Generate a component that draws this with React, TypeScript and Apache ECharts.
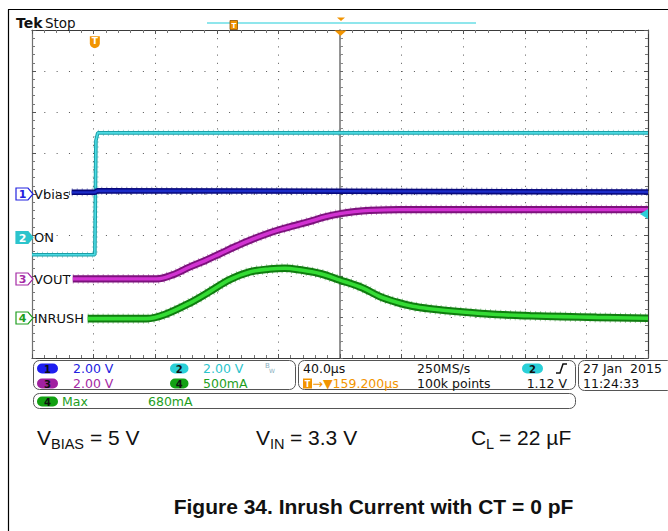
import React, { useEffect, useRef } from "react";
import * as echarts from "echarts";

// ---- Scope settings ----
const TIME_MIN = -200; // µs, relative to screen centre (40 µs/div, 10 div)
const TIME_MAX = 200;
const TIME_DIV = 40;
const DIV_MIN = -4; // vertical divisions relative to centre
const DIV_MAX = 4;
const TRIGGER_T = -159.2; // µs

// ---- Traces (time in µs, level in screen divisions) ----
const ON_T = [-200, -159.2, -158.5, -157.3, 200];
const ON_V = [-1.48, -1.48, 1.3, 1.49, 1.49];

const VBIAS_T = [-174.2, -159.2, -157.5, 200];
const VBIAS_V = [0.04, 0.04, 0.08, 0.05];

const VOUT_T = [-173.5, -119.0, -108.6, -97.6, -87.9, -78.1, -68.4, -58.6, -48.9, -39.2, -29.4, -19.7, -9.9, 0, 9.5, 19.3, 38.8, 200];
const VOUT_V = [-2.07, -2.07, -1.97, -1.78, -1.63, -1.46, -1.29, -1.13, -0.99, -0.87, -0.77, -0.67, -0.56, -0.48, -0.43, -0.4, -0.38, -0.38];

const INRUSH_T = [-163.8, -125.5, -113.8, -97.6, -84.6, -71.6, -58.6, -45.7, -35.9, -26.2, -13.2, 0, 14.7, 25.8, 36.8, 47.2, 58.2, 79.7, 101.7, 123.2, 144.6, 166.7, 200];
const INRUSH_V = [-3.04, -3.04, -2.94, -2.66, -2.38, -2.09, -1.9, -1.83, -1.81, -1.85, -1.94, -2.1, -2.29, -2.5, -2.64, -2.74, -2.8, -2.88, -2.94, -2.97, -2.99, -3.01, -3.03];

// ---- Texts ----
const CH_NAMES = ["Vbias", "ON", "VOUT", "INRUSH"];
const CH_SCALES = ["2.00 V", "2.00 V", "2.00 V", "500mA"];
const TIMEBASE = "40.0µs";
const SAMPLE_RATE = "250MS/s";
const RECORD = "100k points";
const TRIG_POS = "→▼159.200µs";
const TRIG_LEVEL = "1.12 V";
const DATE = "27 Jan  2015";
const TIME = "11:24:33";
const MEAS_NAME = "Max";
const MEAS_VALUE = "680mA";
const TITLE = "Figure 34. Inrush Current with CT = 0 pF";

const COL = {
  blueOuter: "#07077a",
  blueInner: "#1c2cc8",
  cyanOuter: "#1c9ea6",
  cyanInner: "#4cdbe3",
  magOuter: "#7c127c",
  magInner: "#d232d2",
  grnOuter: "#0f7c0f",
  grnInner: "#34dc34",
  blueTxt: "#2222e0",
  cyanTxt: "#2cc4cc",
  magTxt: "#a52aa5",
  grnTxt: "#1e9e1e",
  orange: "#f29400",
};

const pair = (t: number[], v: number[]) => t.map((x, i) => [x, v[i]]);

const SCOPE_FONT = '"DejaVu Sans", sans-serif';
const DOC_FONT = '"Liberation Sans", Arial, sans-serif';
const INFO_FONT = "12.5px " + SCOPE_FONT;
const ROW1 = 368.5;
const ROW2 = 383.5;

function trace(name: string, t: number[], v: number[], outer: string, inner: string, wo: number, wi: number, smooth: number | boolean, z: number) {
  const data = pair(t, v);
  const base = { type: "line", data, showSymbol: false, symbol: "none", smooth, silent: true };
  return [
    { ...base, name: name + "-f", lineStyle: { color: outer, width: wo + 2.5, type: [1, 4], opacity: 0.4 }, z },
    { ...base, name: name + "-o", lineStyle: { color: outer, width: wo }, z: z + 0.2 },
    { ...base, name: name + "-i", lineStyle: { color: inner, width: wi }, z: z + 0.4 },
  ];
}

function txt(text: string, x: number, y: number, fill: string, font: string, align = "left", vAlign = "middle", z = 20) {
  return { type: "text", z, style: { text, x, y, fill, font, textAlign: align, textVerticalAlign: vAlign } };
}

function pill(label: string, x: number, yc: number, w: number, fill: string) {
  return [
    { type: "rect", z: 20, shape: { x, y: yc - 5, width: w, height: 10, r: 5 }, style: { fill } },
    txt(label, x + w / 2, yc + 0.5, "#101010", "bold 10px " + SCOPE_FONT, "center"),
  ];
}

function chMarker(n: string, yc: number, color: string, filled: boolean) {
  const x0 = 16;
  return [
    {
      type: "polygon",
      z: 20,
      shape: { points: [[x0, yc - 6], [x0 + 12, yc - 6], [x0 + 17, yc], [x0 + 12, yc + 6], [x0, yc + 6]] },
      style: { fill: filled ? color : "#ffffff", stroke: color, lineWidth: 1.2 },
    },
    txt(n, x0 + 6.5, yc + 0.5, filled ? "#ffffff" : color, "bold 11px " + SCOPE_FONT, "center"),
  ];
}

export default function App() {
  const ref = useRef<HTMLDivElement>(null);

  useEffect(() => {
    document.body.style.margin = "0";
    if (!ref.current) return;
    const chart = echarts.init(ref.current, undefined, { renderer: "svg" });

    const gridRect = { left: 32, top: 30, width: 616, height: 328 };
    const tickCommon = {
      axisLabel: { show: false },
      axisTick: { show: true, inside: true, length: 4, lineStyle: { color: "#555", width: 1 } },
      minorTick: { show: true, splitNumber: 5, length: 3, lineStyle: { color: "#777", width: 1 } },
    };

    const option: any = {
      animation: false,
      backgroundColor: "#ffffff",
      grid: [
        { ...gridRect, containLabel: false },
        { ...gridRect, containLabel: false },
      ],
      xAxis: [
        {
          type: "value", gridIndex: 0, min: TIME_MIN, max: TIME_MAX, interval: TIME_DIV, position: "bottom",
          axisLine: { show: true, onZero: false, lineStyle: { color: "#3a3a3a", width: 1.2 } },
          ...tickCommon,
          splitLine: { show: true, lineStyle: { color: "#555", width: 1, type: [1, 7.2] } },
        },
        {
          type: "value", gridIndex: 0, min: TIME_MIN, max: TIME_MAX, interval: TIME_DIV, position: "top",
          axisLine: { show: true, onZero: false, lineStyle: { color: "#3a3a3a", width: 1.2 } },
          ...tickCommon,
          splitLine: { show: false },
        },
        {
          type: "value", gridIndex: 1, min: TIME_MIN, max: TIME_MAX, interval: TIME_DIV, position: "bottom",
          axisLine: { show: true, onZero: true, lineStyle: { color: "#555", width: 1, opacity: 0 } },
          axisLabel: { show: false },
          axisTick: { show: true, inside: true, length: 3, lineStyle: { color: "#666" } },
          minorTick: { show: true, splitNumber: 5, length: 3, lineStyle: { color: "#888" } },
          splitLine: { show: false },
        },
      ],
      yAxis: [
        {
          type: "value", gridIndex: 0, min: DIV_MIN, max: DIV_MAX, interval: 1, position: "left",
          axisLine: { show: true, onZero: false, lineStyle: { color: "#707070", width: 1.2 } },
          ...tickCommon,
          splitLine: { show: true, lineStyle: { color: "#555", width: 1, type: [1, 11.32] } },
        },
        {
          type: "value", gridIndex: 0, min: DIV_MIN, max: DIV_MAX, interval: 1, position: "right",
          axisLine: { show: true, onZero: false, lineStyle: { color: "#3a3a3a", width: 1.2 } },
          ...tickCommon,
          splitLine: { show: false },
        },
        {
          type: "value", gridIndex: 1, min: DIV_MIN, max: DIV_MAX, interval: 1, position: "left",
          axisLine: { show: true, onZero: true, lineStyle: { color: "#7a7a7a", width: 1.6 } },
          axisLabel: { show: false },
          axisTick: { show: true, inside: true, length: 3, lineStyle: { color: "#666" } },
          minorTick: { show: true, splitNumber: 5, length: 3, lineStyle: { color: "#888" } },
          splitLine: { show: false },
        },
      ],
      series: [
        ...trace("ON", ON_T, ON_V, COL.cyanOuter, COL.cyanInner, 3.6, 1.6, false, 3),
        ...trace("Vbias", VBIAS_T, VBIAS_V, COL.blueOuter, COL.blueInner, 5.5, 2.4, false, 4),
        ...trace("VOUT", VOUT_T, VOUT_V, COL.magOuter, COL.magInner, 7.2, 3.4, 0.35, 5),
        ...trace("INRUSH", INRUSH_T, INRUSH_V, COL.grnOuter, COL.grnInner, 7.6, 3.6, 0.35, 6),
        {
          name: "trigger",
          type: "scatter",
          data: [],
          symbolSize: 0,
          markPoint: {
            silent: true,
            symbol: "path://M0,0 L10,0 L10,7 Q10,11 5,12 Q0,11 0,7 Z",
            symbolSize: [10, 12],
            itemStyle: { color: COL.orange },
            label: { show: true, formatter: "T", color: "#fff", fontSize: 9, fontWeight: "bold", fontFamily: SCOPE_FONT, offset: [0, -1] },
            data: [{ coord: [TRIGGER_T, 3.7] }],
          },
          z: 10,
        },
      ],
      graphic: [
        // document frame
        { type: "line", z: 30, shape: { x1: 8.5, y1: 9.5, x2: 8.5, y2: 531 }, style: { stroke: "#000", lineWidth: 1.2 } },
        { type: "line", z: 30, shape: { x1: 8, y1: 9.5, x2: 668, y2: 9.5 }, style: { stroke: "#000", lineWidth: 1.2 } },
        // Tek Stop
        txt("Tek", 16, 23, "#111", "bold 14px " + SCOPE_FONT),
        txt("Stop", 45, 23, "#111", "13.5px " + SCOPE_FONT),
        // record bar
        { type: "line", z: 20, shape: { x1: 207, y1: 23, x2: 476, y2: 23 }, style: { stroke: "#8fe6ec", lineWidth: 2 } },
        { type: "rect", z: 21, shape: { x: 230, y: 20.5, width: 7.5, height: 9 }, style: { fill: COL.orange, stroke: "#8a5000", lineWidth: 0.8 } },
        txt("T", 233.8, 25.5, "#fff", "bold 7px " + SCOPE_FONT, "center", "middle", 22),
        { type: "polygon", z: 21, shape: { points: [[337, 17.5], [345, 17.5], [341, 21]] }, style: { fill: COL.orange } },
        { type: "polygon", z: 21, shape: { points: [[334.5, 30.5], [346.5, 30.5], [340.5, 36]] }, style: { fill: COL.orange } },
        // trigger level arrow (right)
        { type: "polygon", z: 21, shape: { points: [[640, 214], [648, 209], [648, 219]] }, style: { fill: "#2ccfd8" } },
        // channel markers + names
        ...chMarker("1", 194, COL.blueTxt, false),
        txt(CH_NAMES[0], 34, 194, "#111", "13px " + SCOPE_FONT),
        ...chMarker("2", 237.5, COL.cyanTxt, true),
        txt(CH_NAMES[1], 34, 237.5, "#111", "13px " + SCOPE_FONT),
        ...chMarker("3", 279, COL.magTxt, false),
        txt(CH_NAMES[2], 34, 279, "#111", "13px " + SCOPE_FONT),
        ...chMarker("4", 318, COL.grnTxt, false),
        txt(CH_NAMES[3], 34, 318, "#111", "13px " + SCOPE_FONT),
        // info boxes
        { type: "rect", z: 19, shape: { x: 33.5, y: 360.5, width: 262, height: 29, r: 6 }, style: { fill: "#fff", stroke: "#555", lineWidth: 1 } },
        { type: "rect", z: 19, shape: { x: 298.5, y: 360.5, width: 277, height: 29, r: 6 }, style: { fill: "#fff", stroke: "#555", lineWidth: 1 } },
        { type: "rect", z: 19, shape: { x: 578.5, y: 360.5, width: 95, height: 30, r: 6 }, style: { fill: "#fff", stroke: "#555", lineWidth: 1 } },
        { type: "rect", z: 19, shape: { x: 33.5, y: 393.5, width: 542, height: 15, r: 6 }, style: { fill: "#fff", stroke: "#555", lineWidth: 1 } },
        ...pill("1", 37, ROW1, 21, "#1e1ef0"),
        txt(CH_SCALES[0], 73, ROW1, COL.blueTxt, INFO_FONT),
        ...pill("2", 170, ROW1, 18.5, "#2ad0d8"),
        txt(CH_SCALES[1], 203, ROW1, COL.cyanTxt, INFO_FONT),
        txt("B", 265, 366, "#8ab0c0", "7px " + SCOPE_FONT),
        txt("W", 269, 370, "#8ab0c0", "6px " + SCOPE_FONT),
        ...pill("3", 37, ROW2, 21, "#a020a0"),
        txt(CH_SCALES[2], 73, ROW2, COL.magTxt, INFO_FONT),
        ...pill("4", 170, ROW2, 18.5, "#12a012"),
        txt(CH_SCALES[3], 203, ROW2, COL.grnTxt, INFO_FONT),
        txt(TIMEBASE, 303, ROW1, "#111", INFO_FONT),
        txt(SAMPLE_RATE, 417, ROW1, "#111", INFO_FONT),
        ...pill("2", 522, ROW1, 21, "#2ad0d8"),
        { type: "polyline", z: 21, shape: { points: [[556, 373], [560, 373], [563, 364], [567, 364]] }, style: { stroke: "#111", lineWidth: 1.5, fill: "none" } },
        { type: "rect", z: 21, shape: { x: 303, y: ROW2 - 5, width: 9, height: 10 }, style: { fill: COL.orange } },
        txt("T", 307.5, ROW2 + 0.5, "#fff", "bold 8px " + SCOPE_FONT, "center", "middle", 22),
        txt(TRIG_POS, 312.5, ROW2, COL.orange, INFO_FONT),
        txt(RECORD, 417, ROW2, "#111", INFO_FONT),
        txt(TRIG_LEVEL, 567, ROW2, "#111", INFO_FONT, "right"),
        txt(DATE, 583, ROW1, "#111", INFO_FONT),
        txt(TIME, 583, ROW2, "#111", INFO_FONT),
        ...pill("4", 37, 401.5, 21, "#12a012"),
        txt(MEAS_NAME, 62, 401.5, COL.grnTxt, INFO_FONT),
        txt(MEAS_VALUE, 148, 401.5, COL.grnTxt, INFO_FONT),
        // conditions
        txt("V", 37, 437, "#111", "21px " + DOC_FONT),
        txt("BIAS", 51, 444, "#111", "14.5px " + DOC_FONT),
        txt("= 5 V", 90, 437, "#111", "21px " + DOC_FONT),
        txt("V", 256, 437, "#111", "21px " + DOC_FONT),
        txt("IN", 270, 444, "#111", "14.5px " + DOC_FONT),
        txt("= 3.3 V", 290, 437, "#111", "21px " + DOC_FONT),
        txt("C", 471, 437, "#111", "21px " + DOC_FONT),
        txt("L", 486, 444, "#111", "14.5px " + DOC_FONT),
        txt("= 22 µF", 499, 437, "#111", "21px " + DOC_FONT),
        // caption
        txt(TITLE, 373.5, 506, "#111", "bold 21px " + DOC_FONT, "center"),
      ],
    };

    chart.setOption(option);
    return () => chart.dispose();
  }, []);

  return <div ref={ref} style={{ width: 668, height: 531, background: "#fff" }} />;
}
